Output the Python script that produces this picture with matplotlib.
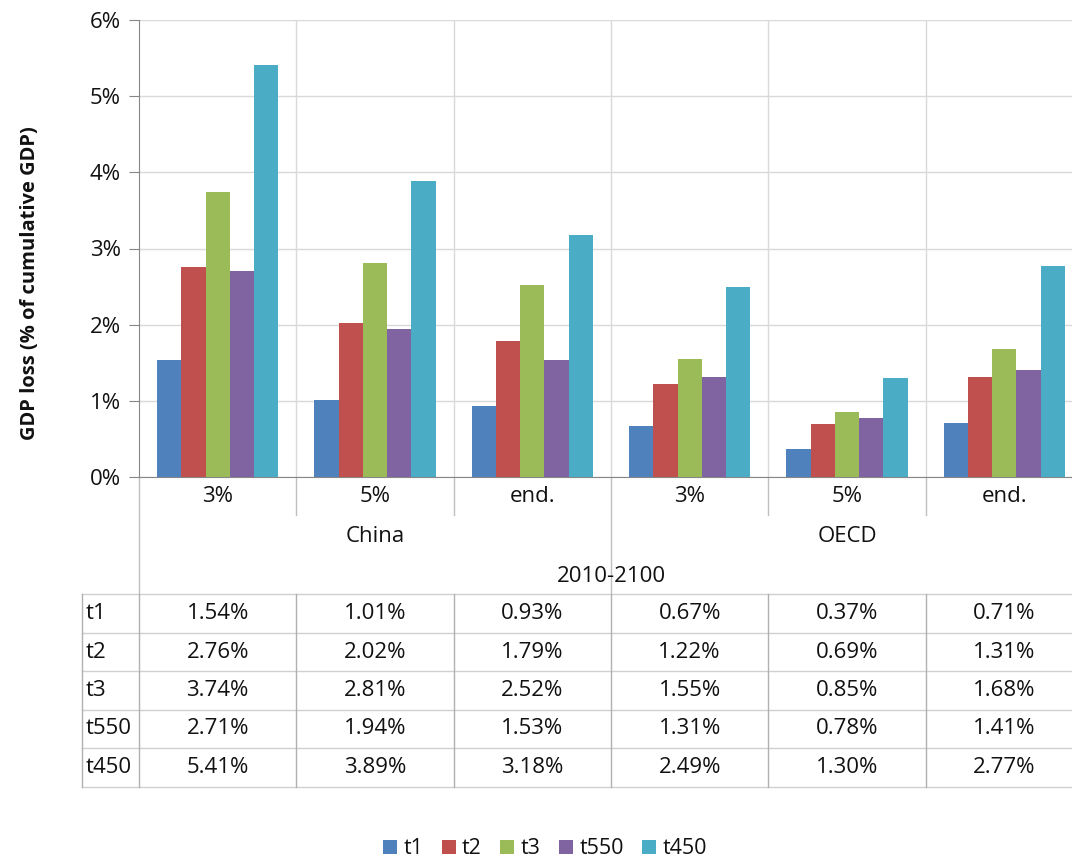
import numpy as np
import matplotlib
matplotlib.use('Agg')
import matplotlib.pyplot as plt

plt.rcParams['font.family'] = ['Open Sans', 'DejaVu Sans']

# data
categories = ['3%', '5%', 'end.', '3%', '5%', 'end.']
regions = ['China', 'OECD']
period = '2010-2100'
series = ['t1', 't2', 't3', 't550', 't450']
t1 = [1.54, 1.01, 0.93, 0.67, 0.37, 0.71]
t2 = [2.76, 2.02, 1.79, 1.22, 0.69, 1.31]
t3 = [3.74, 2.81, 2.52, 1.55, 0.85, 1.68]
t550 = [2.71, 1.94, 1.53, 1.31, 0.78, 1.41]
t450 = [5.41, 3.89, 3.18, 2.49, 1.30, 2.77]
values = [t1, t2, t3, t550, t450]
colors = ['#4F81BD', '#C0504D', '#9BBB59', '#8064A2', '#4BACC6']
txt = '#111111'

W, H = 1072, 859
fig = plt.figure(figsize=(W / 100, H / 100), dpi=100)
x0, x1, ytop, ybot = 139, 1083, 20, 477
ax = fig.add_axes([x0 / W, (H - ybot) / H, (x1 - x0) / W, (ybot - ytop) / H])

ind = np.arange(len(categories))
width = 0.1545
for i, (name, vals) in enumerate(zip(series, values)):
    ax.bar(ind + (i - 2) * width, vals, width, color=colors[i], label=name, zorder=3)

ax.set_xlim(-0.5, len(categories) - 0.5)
ax.set_ylim(0, 6)
ax.set_yticks(range(7))
ax.set_yticklabels([f'{v}%' for v in range(7)], fontsize=16, color=txt)
ax.tick_params(axis='y', length=7, color='#868686', pad=6)
ax.tick_params(axis='x', length=0, labelbottom=False)
for s in ['top', 'right']:
    ax.spines[s].set_visible(False)
ax.spines['left'].set_color('#868686')
ax.spines['bottom'].set_color('#868686')
ax.yaxis.grid(True, color='#D9D9D9', lw=1, zorder=0)
for b in ind[:-1] + 0.5:
    ax.axvline(b, color='#D9D9D9', lw=1, zorder=0)
ax.axvline(len(categories) - 0.5, color='#D9D9D9', lw=1, zorder=0)

ax.set_ylabel('GDP loss (% of cumulative GDP)', fontsize=14.5, fontweight='bold', color=txt)
ax.yaxis.set_label_coords((40 - x0) / (x1 - x0), (ybot - 283) / (ybot - ytop))

# area below the plot: category / region / period labels and the data table
tr = ax.get_xaxis_transform()
def fy(ypx):
    return (ybot - ypx) / (ybot - ytop)

line_kw = dict(transform=tr, clip_on=False, lw=1)
for k, c in enumerate(categories):
    ax.text(k, fy(497), c, transform=tr, ha='center', va='center', fontsize=16, color=txt)
    if k > 0 and k != 3:
        ax.plot([k - 0.5, k - 0.5], [fy(477), fy(515)], color='#BFBFBF', **line_kw)
for g, r in enumerate(regions):
    ax.text(g * 3 + 1, fy(536), r, transform=tr, ha='center', va='center', fontsize=16, color=txt)
for b in [-0.5, 2.5, 5.5]:
    ax.plot([b, b], [fy(477), fy(594)], color='#BFBFBF', **line_kw)
ax.text(2.5, fy(577), period, transform=tr, ha='center', va='center', fontsize=16, color=txt)

row_edges = [594, 633, 671, 710, 748, 787]
xl = -0.5 - (139 - 82) / ((x1 - x0) / len(categories))
for ypx in row_edges:
    ax.plot([xl, 5.5], [fy(ypx), fy(ypx)], color='#D0D0D0', **line_kw)
for b in [xl] + list(ind - 0.5) + [5.5]:
    ax.plot([b, b], [fy(594), fy(787)], color='#B0B0B0', **line_kw)
for r, (name, vals) in enumerate(zip(series, values)):
    yc = fy((row_edges[r] + row_edges[r + 1]) / 2)
    ax.text(xl + 0.02, yc, name, transform=tr, ha='left', va='center', fontsize=16, color=txt)
    for k, v in enumerate(vals):
        ax.text(k, yc, f'{v:.2f}%', transform=tr, ha='center', va='center', fontsize=16, color=txt)

fig.legend(loc='center', bbox_to_anchor=(545 / W, (H - 849) / H), ncol=5, frameon=False,
           fontsize=15.5, handlelength=0.65, handleheight=0.65, handletextpad=0.3, columnspacing=0.85,
           labelcolor=txt)

fig.savefig('out.png', dpi=100)
